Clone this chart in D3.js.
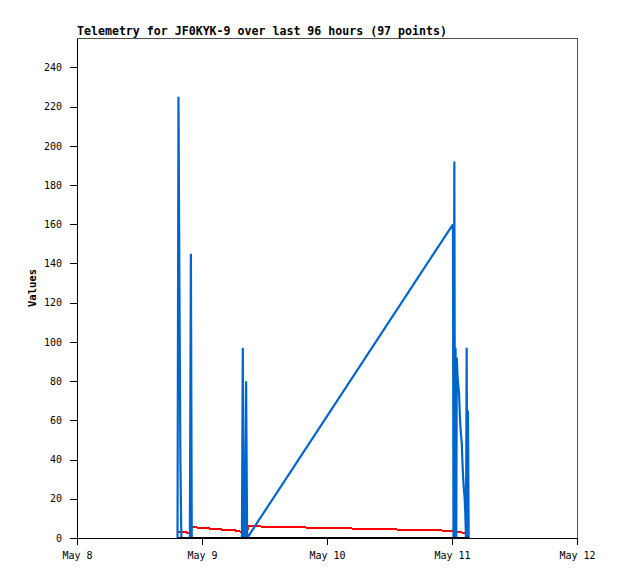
<!DOCTYPE html>
<html><head><meta charset="utf-8">
<script src="https://cdn.jsdelivr.net/npm/d3@7"></script>
<style>body{margin:0;background:#fff}</style>
</head><body><svg id="c" width="618" height="579"></svg>
<script>
const titleText = "Telemetry for JF0KYK-9 over last 96 hours (97 points)";
const yLabel = "Values";
const times = [
"2024-05-08 19:18","2024-05-08 19:29","2024-05-08 19:40","2024-05-08 19:51","2024-05-08 20:02",
"2024-05-08 20:15","2024-05-08 20:30","2024-05-08 20:45","2024-05-08 21:00","2024-05-08 21:15",
"2024-05-08 21:30","2024-05-08 21:40","2024-05-08 21:52","2024-05-08 22:02","2024-05-08 22:20",
"2024-05-08 22:40","2024-05-08 23:00","2024-05-08 23:20","2024-05-08 23:40","2024-05-09 00:00",
"2024-05-09 00:20","2024-05-09 00:40","2024-05-09 01:00","2024-05-09 01:20","2024-05-09 01:40",
"2024-05-09 02:00","2024-05-09 02:20","2024-05-09 02:40","2024-05-09 03:00","2024-05-09 03:20",
"2024-05-09 03:40","2024-05-09 04:00","2024-05-09 04:20","2024-05-09 04:40","2024-05-09 05:00",
"2024-05-09 05:20","2024-05-09 05:40","2024-05-09 06:00","2024-05-09 06:20","2024-05-09 06:40",
"2024-05-09 07:00","2024-05-09 07:20","2024-05-09 07:40","2024-05-09 07:50","2024-05-09 08:00",
"2024-05-09 08:15","2024-05-09 08:28","2024-05-09 08:40","2024-05-09 08:55",
"2024-05-11 00:11","2024-05-11 00:17","2024-05-11 00:27","2024-05-11 00:35","2024-05-11 00:41",
"2024-05-11 00:49","2024-05-11 00:55","2024-05-11 01:04","2024-05-11 01:12","2024-05-11 01:21",
"2024-05-11 01:29","2024-05-11 01:37","2024-05-11 01:45","2024-05-11 01:53","2024-05-11 02:01",
"2024-05-11 02:09","2024-05-11 02:17","2024-05-11 02:25","2024-05-11 02:33","2024-05-11 02:41",
"2024-05-11 02:49","2024-05-11 02:56","2024-05-11 03:04","2024-05-11 03:12"
];
const blueValues = [
0,225,128,40,0, 0,0,0,0,0, 0,0,145,0,0, 0,0,0,0,0, 0,0,0,0,0, 0,0,0,0,0,
0,0,0,0,0, 0,0,0,0,0, 0,0,0,97,0, 0,80,0,1,
160,0,192,0,97, 0,92,82,78,74, 64,57,52,48,38, 30,25,21,13,0, 97,0,65,0
];
const redValues = [
3.3,3.3,3.3,3.2,3.2, 3.2,3.2,3.2,2.8,2.8, 2.8,2.8,5.8,5.8,5.8, 5.8,5.4,5.1,5.1,5.1,
5.1,5.1,5.1,5.0,4.5, 4.4,4.4,4.4,4.4,4.4, 4.4,4.0,3.9,3.9,3.9, 3.9,3.9,3.9,3.9,3.5,
3.4,3.3,3.2,3.2,3.2, 3.1,3.1,3.1,6.0,
3.7,3.6,3.6,3.4,3.3, 3.3,3.3,3.3,3.3,3.3, 3.3,3.3,3.2,2.8,2.8, 2.8,2.8,2.8,2.7,2.7, 2.7,2.7,2.7,2.7
];
const blackValues = [
0,0,0,0,0, 0,0,0,0,0, 0,0,0,0,0, 0,0,0,0,0, 0,0,0,0,0, 0,0,0,0,0,
0,0,0,0,0, 0,0,0,0,0, 0,0,0,0,0, 0,0,0,0,
0,0,0,0,0, 0,0,0,0,0, 0,0,0,0,0, 0,0,0,0,0, 0,0,0,0
];
const yTicks = [0,20,40,60,80,100,120,140,160,180,200,220,240];
const xTickDates = ["2024-05-08 00:00","2024-05-09 00:00","2024-05-10 00:00","2024-05-11 00:00","2024-05-12 00:00"];
const xTickLabels = ["May 8","May 9","May 10","May 11","May 12"];

const parse = d3.timeParse("%Y-%m-%d %H:%M");
const svg = d3.select("#c");
const L = 77, R = 577, T = 38, B = 538;
const FONT = "'DejaVu Sans Mono', 'Liberation Mono', monospace";

const x = d3.scaleTime().domain([parse(xTickDates[0]), parse(xTickDates[4])]).range([L, R]);
const y = d3.scaleLinear().domain([0, 255]).range([B, T]);

svg.append("rect").attr("x", L + 0.5).attr("y", T + 0.5).attr("width", R - L).attr("height", B - T)
  .attr("fill", "none").attr("stroke", "#505050").attr("stroke-width", 1).attr("shape-rendering", "crispEdges");

function mk(vals) { return times.map((t, i) => ({t: parse(t), v: vals[i]})); }
const line = d3.line().x(d => x(d.t)).y(d => y(d.v));

const series = [
  {vals: redValues, color: "#ff0000", crisp: true},
  {vals: blueValues, color: "#0066cc", crisp: false},
  {vals: blackValues, color: "#000000", crisp: true}
];
series.forEach(s => {
  svg.append("path").datum(mk(s.vals)).attr("d", line)
    .attr("fill", "none").attr("stroke", s.color).attr("stroke-width", s.crisp ? 2 : 2.2)
    .attr("stroke-linejoin", "bevel").attr("shape-rendering", s.crisp ? "crispEdges" : "auto");
});

const xAxis = d3.axisBottom(x).tickValues(xTickDates.map(parse))
  .tickFormat((d, i) => xTickLabels[i]).tickSize(7).tickSizeOuter(0).tickPadding(7);
const gx = svg.append("g").attr("transform", `translate(0,${B})`).call(xAxis);
const yAxis = d3.axisLeft(y).tickValues(yTicks).tickSize(7).tickSizeOuter(0).tickPadding(8);
const gy = svg.append("g").attr("transform", `translate(${L},0)`).call(yAxis);
[gx, gy].forEach(g => {
  g.attr("font-family", FONT).attr("font-size", 10);
  g.selectAll("path.domain").attr("stroke", "#000").attr("shape-rendering", "crispEdges");
  g.selectAll(".tick line").attr("stroke", "#000").attr("shape-rendering", "crispEdges");
  g.selectAll(".tick text").attr("fill", "#000");
});

svg.append("text").attr("x", L).attr("y", 35).attr("font-family", FONT)
  .attr("font-size", 11.6).attr("font-weight", "bold").attr("fill", "#000").text(titleText);

svg.append("text").attr("transform", `translate(36,${(T + B) / 2}) rotate(-90)`)
  .attr("text-anchor", "middle").attr("font-family", FONT).attr("font-size", 10.5)
  .attr("font-weight", "bold").attr("fill", "#000").text(yLabel);
</script>
</body></html>
